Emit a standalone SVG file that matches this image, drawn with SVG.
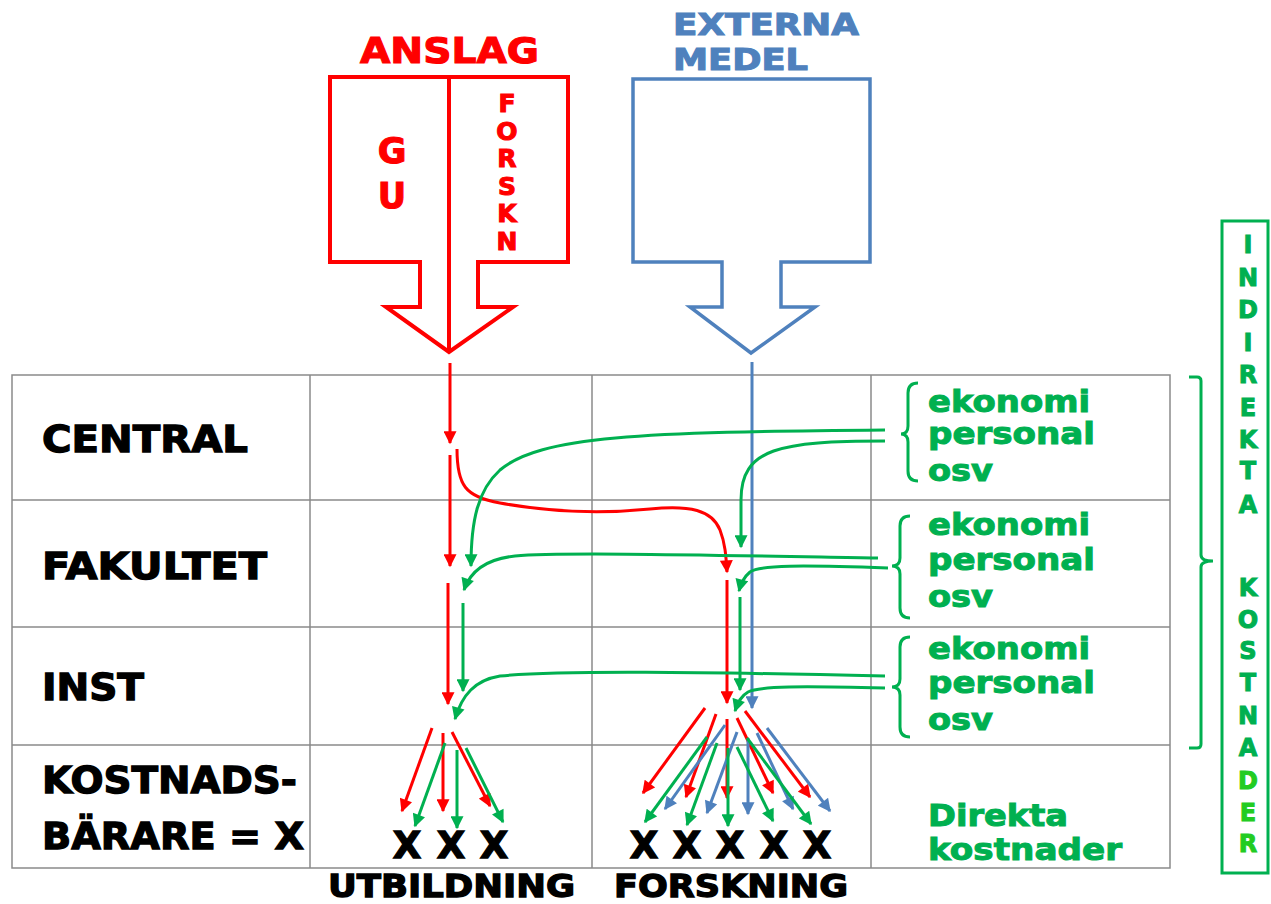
<svg xmlns="http://www.w3.org/2000/svg" width="1271" height="904" viewBox="0 0 1271 904">
<style>
.b{font-family:"DejaVu Sans","Liberation Sans",sans-serif;font-weight:bold}
.k{fill:#000;stroke:#000;stroke-width:1.3}
.r{fill:#ff0000;stroke:#ff0000;stroke-width:1.1}
.bl{fill:#4f81bd;stroke:#4f81bd;stroke-width:1.1}
.g{fill:#00b050;stroke:#00b050;stroke-width:1}
.gl{fill:#22cc22;stroke:#22cc22;stroke-width:1}
.grid{stroke:#8a8a8a;stroke-width:1.5;fill:none}
.cr{stroke:#ff0000;stroke-width:3;fill:none;marker-end:url(#mr)}
.cg{stroke:#00b050;stroke-width:3;fill:none;marker-end:url(#mg)}
.cb{stroke:#4f81bd;stroke-width:3;fill:none;marker-end:url(#mb)}
.brace{stroke:#00b050;stroke-width:3;fill:none}
</style>
<defs>
<marker id="mr" viewBox="0 0 10 10" refX="9" refY="5" markerWidth="14" markerHeight="13" markerUnits="userSpaceOnUse" orient="auto"><path d="M0,0 L10,5 L0,10 z" fill="#ff0000"/></marker>
<marker id="mg" viewBox="0 0 10 10" refX="9" refY="5" markerWidth="14" markerHeight="13" markerUnits="userSpaceOnUse" orient="auto"><path d="M0,0 L10,5 L0,10 z" fill="#00b050"/></marker>
<marker id="mb" viewBox="0 0 10 10" refX="9" refY="5" markerWidth="14" markerHeight="13" markerUnits="userSpaceOnUse" orient="auto"><path d="M0,0 L10,5 L0,10 z" fill="#4f81bd"/></marker>
</defs>
<rect width="1271" height="904" fill="#fff"/>

<g id="table">
<rect x="12" y="375" width="1158" height="493" fill="#e8e8e8" class="grid"/>
<path class="grid" d="M310,375 V868 M592,375 V868 M871,375 V868 M12,500 H1170 M12,627 H1170 M12,745 H1170"/>
</g>

<g id="anslag">
<text class="b r" x="360" y="63" font-size="36" textLength="179" lengthAdjust="spacingAndGlyphs">ANSLAG</text>
<path d="M330,77 L568,77 L568,262 L478,262 L478,307 L513,307 L449,352 L386,307 L420,307 L420,262 L330,262 Z" fill="#fff" stroke="#ff0000" stroke-width="4" stroke-linejoin="miter"/>
<path d="M449,77 V352" stroke="#ff0000" stroke-width="4"/>
<text class="b r" x="392" y="163" font-size="35" text-anchor="middle">G</text>
<text class="b r" x="392" y="208" font-size="35" text-anchor="middle">U</text>
<g class="b r" font-size="25" text-anchor="middle">
<text x="507" y="112">F</text><text x="507" y="140">O</text><text x="507" y="167">R</text><text x="507" y="195">S</text><text x="507" y="222">K</text><text x="507" y="250">N</text>
</g>
</g>

<g id="externa">
<text class="b bl" x="673" y="35" font-size="31" textLength="186" lengthAdjust="spacingAndGlyphs">EXTERNA</text>
<text class="b bl" x="673" y="70" font-size="31" textLength="135" lengthAdjust="spacingAndGlyphs">MEDEL</text>
<path d="M633,79 L870,79 L870,262 L781,262 L781,307 L815,307 L751,353 L690,307 L722,307 L722,262 L633,262 Z" fill="#fff" stroke="#4f81bd" stroke-width="3.5"/>
</g>

<g id="levels">
<text class="b k" x="42" y="452" font-size="38" textLength="206" lengthAdjust="spacingAndGlyphs">CENTRAL</text>
<text class="b k" x="42" y="579" font-size="38" textLength="225" lengthAdjust="spacingAndGlyphs">FAKULTET</text>
<text class="b k" x="42" y="700" font-size="38" textLength="102" lengthAdjust="spacingAndGlyphs">INST</text>
<text class="b k" x="42" y="793" font-size="38" textLength="255" lengthAdjust="spacingAndGlyphs">KOSTNADS-</text>
<text class="b k" x="42" y="849" font-size="38" textLength="262" lengthAdjust="spacingAndGlyphs">BÄRARE = X</text>
</g>

<g id="indirect-labels">
<path class="brace" d="M918,383 Q908,383 908,393 L908,426 Q908,434 901,434 Q908,434 908,442 L908,471 Q908,481 918,481"/>
<path class="brace" d="M910,516 Q900,516 900,526 L900,558 Q900,566 892,566 Q900,566 900,574 L900,608 Q900,618 910,618"/>
<path class="brace" d="M910,637 Q900,637 900,647 L900,679 Q900,687 892,687 Q900,687 900,695 L900,727 Q900,737 910,737"/>
<g class="b g" font-size="30">
<text x="928" y="412" textLength="162" lengthAdjust="spacingAndGlyphs">ekonomi</text>
<text x="928" y="444" textLength="167" lengthAdjust="spacingAndGlyphs">personal</text>
<text x="928" y="481" textLength="65" lengthAdjust="spacingAndGlyphs">osv</text>
<text x="928" y="535" textLength="162" lengthAdjust="spacingAndGlyphs">ekonomi</text>
<text x="928" y="570" textLength="167" lengthAdjust="spacingAndGlyphs">personal</text>
<text x="928" y="607" textLength="65" lengthAdjust="spacingAndGlyphs">osv</text>
<text x="928" y="659" textLength="162" lengthAdjust="spacingAndGlyphs">ekonomi</text>
<text x="928" y="693" textLength="167" lengthAdjust="spacingAndGlyphs">personal</text>
<text x="928" y="730" textLength="65" lengthAdjust="spacingAndGlyphs">osv</text>
<text x="928" y="826" textLength="140" lengthAdjust="spacingAndGlyphs">Direkta</text>
<text x="928" y="860" textLength="194" lengthAdjust="spacingAndGlyphs">kostnader</text>
</g>
</g>

<g id="indirekta-kostnader">
<path class="brace" d="M1189,377 L1197,377 Q1201,377 1201,381 L1201,555 Q1201,561 1213,561 Q1201,561 1201,567 L1201,744 Q1201,748 1197,748 L1189,748"/>
<rect x="1222" y="221" width="46" height="652" fill="#fff" stroke="#00b050" stroke-width="3"/>
<g class="b g" font-size="24" text-anchor="middle">
<text x="1248" y="253">I</text><text x="1248" y="286">N</text><text x="1248" y="318">D</text><text x="1248" y="351">I</text><text x="1248" y="383">R</text><text x="1248" y="416">E</text><text x="1248" y="448">K</text><text x="1248" y="479">T</text><text x="1248" y="513">A</text>
<text x="1248" y="596">K</text><text x="1248" y="628">O</text><text x="1248" y="659">S</text><text x="1248" y="691">T</text><text x="1248" y="724">N</text><text x="1248" y="756">A</text>
</g>
<g class="b gl" font-size="24" text-anchor="middle">
<text x="1248" y="789">D</text><text x="1248" y="821">E</text><text x="1248" y="852">R</text>
</g>
</g>

<g id="cost-carriers">
<g class="b k" font-size="37" text-anchor="middle">
<text x="407" y="858">X</text><text x="451" y="858">X</text><text x="494" y="858">X</text>
<text x="644" y="858">X</text><text x="687" y="858">X</text><text x="730" y="858">X</text><text x="774" y="858">X</text><text x="817" y="858">X</text>
</g>
<text class="b k" x="328" y="897" font-size="32" textLength="247" lengthAdjust="spacingAndGlyphs">UTBILDNING</text>
<text class="b k" x="614" y="897" font-size="32" textLength="234" lengthAdjust="spacingAndGlyphs">FORSKNING</text>
</g>

<g id="connectors">
<path class="cr" d="M450,363 V443"/>
<path class="cr" d="M450,455 V566"/>
<path class="cr" d="M457,449 C457,485 465,497 500,503 C550,512 600,514 650,509 C690,505 712,510 720,530 C725,543 726,555 727,572"/>
<path class="cr" d="M448,583 V704"/>
<path class="cr" d="M727,580 V703"/>
<path class="cb" d="M752,362 V708"/>
<path class="cg" d="M885,430 C640,432 540,436 500,470 C478,490 471,520 471,566"/>
<path class="cg" d="M885,441 C780,441 741,448 741,500 L741,547"/>
<path class="cg" d="M878,558 C700,555 560,552 515,556 C485,559 470,572 464,590"/>
<path class="cg" d="M888,568 C800,565 760,565 750,572 C744,577 741,583 739,591"/>
<path class="cg" d="M463,603 V691"/>
<path class="cg" d="M740,597 V690"/>
<path class="cg" d="M885,676 C700,672 560,670 500,676 C475,680 462,695 455,719"/>
<path class="cg" d="M885,688 C800,686 760,686 748,692 C741,696 738,702 735,711"/>
<path class="cr" d="M432,728 L402,811"/>
<path class="cr" d="M443,733 V811"/>
<path class="cr" d="M452,732 L490,806"/>
<path class="cg" d="M445,743 L415,826"/>
<path class="cg" d="M457,750 V828"/>
<path class="cg" d="M466,748 L503,822"/>
<path class="cr" d="M705,708 L643,793"/>
<path class="cr" d="M716,714 L686,797"/>
<path class="cr" d="M727,719 V798"/>
<path class="cr" d="M737,718 L773,793"/>
<path class="cr" d="M745,711 L810,797"/>
<path class="cb" d="M725,725 L665,809"/>
<path class="cb" d="M737,732 L707,813"/>
<path class="cb" d="M748,738 V814"/>
<path class="cb" d="M757,733 L793,809"/>
<path class="cb" d="M767,728 L830,811"/>
<path class="cg" d="M707,737 L645,822"/>
<path class="cg" d="M717,743 L687,825"/>
<path class="cg" d="M728,748 V826"/>
<path class="cg" d="M737,747 L773,821"/>
<path class="cg" d="M747,738 L811,824"/>
</g>
</svg>
